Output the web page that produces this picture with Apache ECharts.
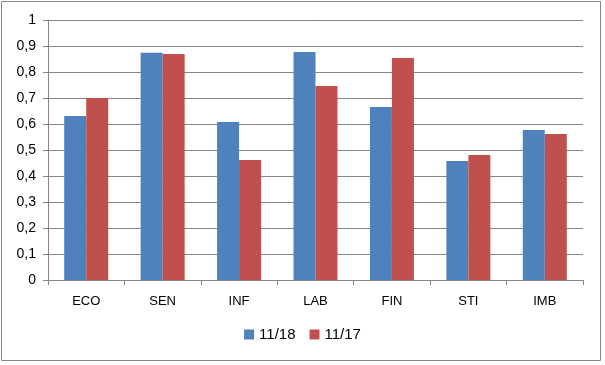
<!DOCTYPE html>
<html><head><meta charset="utf-8">
<script src="https://cdn.jsdelivr.net/npm/echarts@6/dist/echarts.min.js"></script>
<style>html,body{margin:0;padding:0;background:#fff}#c{width:605px;height:365px}</style>
</head><body><div id="c"></div>
<script>
const categories = ['ECO','SEN','INF','LAB','FIN','STI','IMB'];
const seriesNames = ['11/18','11/17'];
const values1118 = [0.631, 0.874, 0.608, 0.877, 0.665, 0.458, 0.577];
const values1117 = [0.700, 0.869, 0.462, 0.746, 0.854, 0.481, 0.562];
const yTicks = [0,0.1,0.2,0.3,0.4,0.5,0.6,0.7,0.8,0.9,1];

const font = 'Liberation Sans';
const chart = echarts.init(document.getElementById('c'), null, {renderer:'canvas'});
chart.setOption({
  animation:false,
  backgroundColor:'#fff',
  graphic:[{type:'rect',shape:{x:1.5,y:1.5,width:599,height:359},style:{fill:'none',stroke:'#868686',lineWidth:1},silent:true}],
  grid:{left:48,right:22,top:20,bottom:85,containLabel:false},
  legend:{bottom:18,left:'center',itemWidth:10,itemHeight:10,itemGap:14,icon:'rect',
    textStyle:{fontFamily:font,fontSize:15,color:'#000'},data:seriesNames},
  xAxis:{type:'category',data:categories,
    axisLine:{lineStyle:{color:'#868686'}},
    axisTick:{show:true,length:5,lineStyle:{color:'#868686'}},
    axisLabel:{fontFamily:font,fontSize:13,color:'#000',margin:15}},
  yAxis:{type:'value',min:0,max:1,interval:0.1,
    axisLine:{show:true,lineStyle:{color:'#868686'}},
    axisTick:{show:true,length:5,lineStyle:{color:'#868686'}},
    splitLine:{lineStyle:{color:'#868686'}},
    axisLabel:{fontFamily:font,fontSize:14,color:'#000',margin:12,
      formatter:v=>{const r=Math.round(v*10)/10; return (r===0||r===1)?String(r):r.toFixed(1).replace('.',',');}}},
  series:[
    {name:seriesNames[0],type:'bar',data:values1118,barWidth:22,barGap:'0%',itemStyle:{color:'#4F81BD'}},
    {name:seriesNames[1],type:'bar',data:values1117,barWidth:22,barGap:'0%',itemStyle:{color:'#C0504D'}}
  ]
});
</script></body></html>
